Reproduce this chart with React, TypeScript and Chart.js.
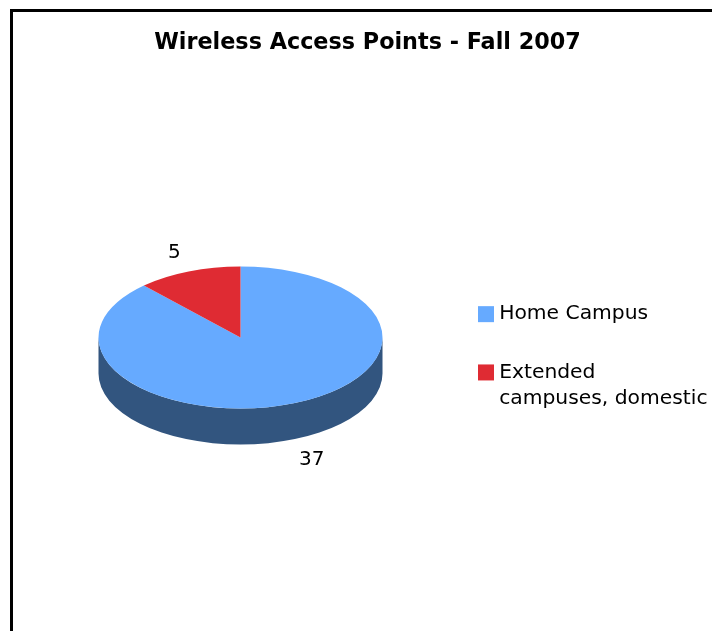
import React, { useEffect, useRef } from "react";
import { Chart, registerables } from "chart.js";

Chart.register(...registerables);

const titleText = "Wireless Access Points - Fall 2007";
const categories = ["Home Campus", "Extended campuses, domestic"];
const legendLines: (string | string[])[] = ["Home Campus", ["Extended", "campuses, domestic"]];
const values = [37, 5];
const sliceColors = ["#66AAFF", "#DF2B33"];
const sideColor = "#32557F";
const FONT = "'DejaVu Sans', Verdana, sans-serif";

const squash = 0.5;
const depth = 36;
const pieArea = { left: 98.5, right: 382.5, top: 195.5, bottom: 479.5 };
const labelOffsets = [
  { dx: 5, dy: 2 },
  { dx: 0, dy: 0 },
];

const pie3d = {
  id: "pie3d",
  afterLayout(chart: any) {
    chart.chartArea = {
      ...pieArea,
      width: pieArea.right - pieArea.left,
      height: pieArea.bottom - pieArea.top,
    };
    const lg = chart.legend;
    lg.left = 445;
    lg.right = 900;
    lg.top = 266;
    lg.bottom = 620;
    lg.width = 455;
    lg.height = 354;
    const tb = chart.titleBlock;
    tb.left = 23;
    tb.right = 712;
    tb.width = 689;
    tb.top = 30;
    tb.bottom = 56;
  },
  beforeDatasetsDraw(chart: any) {
    const ctx = chart.ctx;
    const arcs = chart.getDatasetMeta(0).data;
    ctx.save();
    ctx.fillStyle = sideColor;
    arcs.forEach((arc: any) => {
      const { x, y, outerRadius: r, startAngle, endAngle } = arc;
      const ry = r * squash;
      const a = Math.max(startAngle, 0);
      const b = Math.min(endAngle, Math.PI);
      if (b <= a) return;
      ctx.beginPath();
      ctx.ellipse(x, y + depth, r, ry, 0, a, b, false);
      ctx.ellipse(x, y, r, ry, 0, b, a, true);
      ctx.closePath();
      ctx.fill();
    });
    ctx.restore();
    const cy = (chart.chartArea.top + chart.chartArea.bottom) / 2;
    ctx.save();
    ctx.translate(0, cy);
    ctx.scale(1, squash);
    ctx.translate(0, -cy);
  },
  afterDatasetsDraw(chart: any) {
    const ctx = chart.ctx;
    ctx.restore();
    const arcs = chart.getDatasetMeta(0).data;
    ctx.save();
    ctx.font = `20px ${FONT}`;
    ctx.fillStyle = "#000";
    ctx.textAlign = "center";
    ctx.textBaseline = "middle";
    arcs.forEach((arc: any, i: number) => {
      const mid = (arc.startAngle + arc.endAngle) / 2;
      const k = arc.outerRadius * 1.275;
      const lift = Math.sin(mid) > 0 ? depth : 0;
      const px = arc.x + Math.cos(mid) * k + labelOffsets[i].dx;
      const py = arc.y + Math.sin(mid) * k * squash + lift + labelOffsets[i].dy;
      ctx.fillText(String(values[i]), px, py);
    });
    ctx.restore();
  },
};

export default function App() {
  const ref = useRef<HTMLCanvasElement>(null);
  useEffect(() => {
    const chart = new Chart(ref.current!, {
      type: "pie",
      data: {
        labels: categories,
        datasets: [
          {
            data: values,
            backgroundColor: sliceColors,
            borderWidth: 0,
            clip: false,
          } as any,
        ],
      },
      plugins: [pie3d],
      options: {
        responsive: false,
        animation: false,
        events: [],
        plugins: {
          tooltip: { enabled: false },
          title: {
            display: true,
            text: titleText,
            color: "#000",
            padding: 0,
            font: { family: FONT, size: 22.3, weight: "bold", lineHeight: 1.2 },
          },
          legend: {
            display: true,
            position: "right",
            align: "start",
            labels: {
              color: "#000",
              padding: 38,
              boxWidth: 6,
              boxHeight: 6,
              font: { family: FONT, size: 20.3, lineHeight: 1.28 },
              generateLabels: () =>
                legendLines.map((text, i) => ({
                  text: text as any,
                  fillStyle: sliceColors[i],
                  strokeStyle: sliceColors[i],
                  lineWidth: 10,
                  hidden: false,
                  index: i,
                })),
            },
          },
        },
      },
    } as any);
    return () => chart.destroy();
  }, []);
  return (
    <div style={{ position: "fixed", inset: 0, overflow: "hidden", background: "#fff" }}>
      <div
        style={{
          position: "absolute",
          left: 10,
          top: 9,
          width: 900,
          height: 900,
          border: "3px solid #000",
          boxSizing: "border-box",
        }}
      />
      <canvas ref={ref} width={712} height={631} style={{ position: "absolute", left: 0, top: 0 }} />
    </div>
  );
}
